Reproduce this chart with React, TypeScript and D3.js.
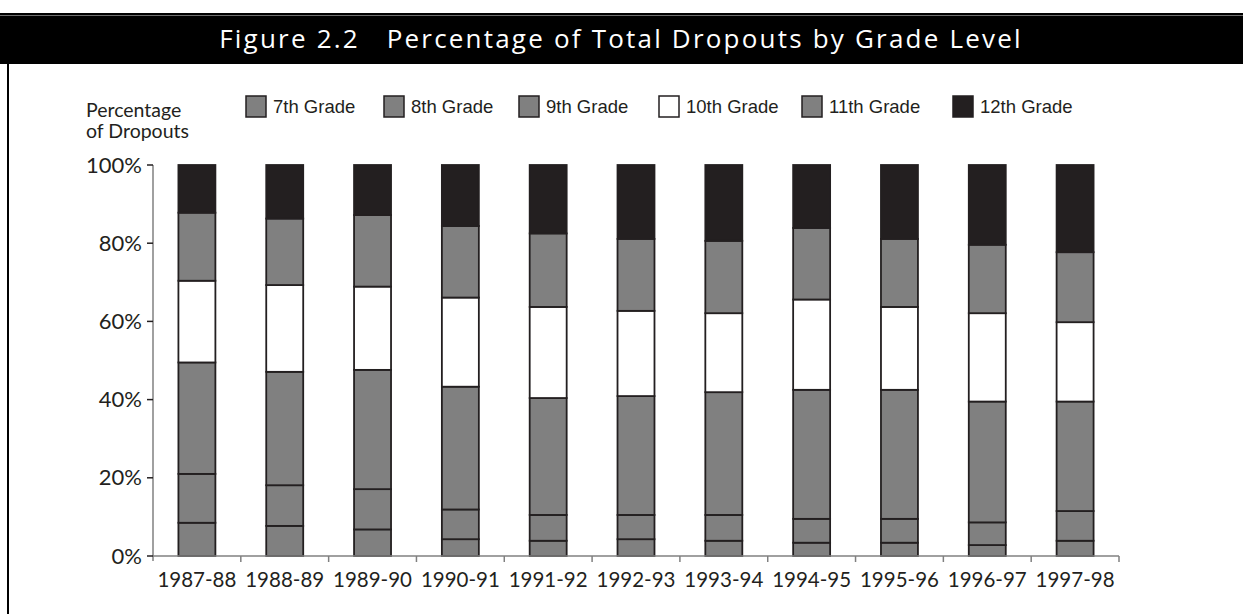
import React from "react";
import * as d3 from "d3";

const years = ["1987-88","1988-89","1989-90","1990-91","1991-92","1992-93","1993-94","1994-95","1995-96","1996-97","1997-98"];
const grades = ["7th Grade","8th Grade","9th Grade","10th Grade","11th Grade","12th Grade"];
const grade7 = [8.5, 7.7, 6.8, 4.3, 3.9, 4.3, 3.9, 3.4, 3.4, 2.8, 3.9];
const grade8 = [12.5, 10.4, 10.3, 7.6, 6.6, 6.2, 6.6, 6.1, 6.1, 5.8, 7.6];
const grade9 = [28.5, 29.0, 30.5, 31.4, 29.9, 30.4, 31.4, 33.0, 33.0, 30.9, 28.0];
const grade10 = [20.9, 22.2, 21.3, 22.8, 23.3, 21.8, 20.2, 23.1, 21.2, 22.6, 20.3];
const grade11 = [17.4, 17.0, 18.3, 18.3, 18.8, 18.4, 18.5, 18.3, 17.4, 17.5, 17.9];
const grade12 = [12.2, 13.7, 12.8, 15.6, 17.5, 18.9, 19.4, 16.1, 18.9, 20.4, 22.3];
const yTicks = [0, 20, 40, 60, 80, 100];

const series = [grade7, grade8, grade9, grade10, grade11, grade12];
const fills = ["#808080", "#808080", "#808080", "#ffffff", "#808080", "#231f20"];
const legendX = [246, 384, 519, 659, 802, 953];

export default function App() {
  const W = 1243, H = 614;
  const left = 153, right = 1119, top = 165, bottom = 556;
  const x = d3.scaleBand<string>().domain(years).range([left, right]).paddingInner(0.579).paddingOuter(0.2895);
  const y = d3.scaleLinear().domain([0, 100]).range([bottom, top]);
  const rows = years.map((yr, i) => {
    const o: any = { year: yr };
    grades.forEach((g, k) => (o[g] = series[k][i]));
    return o;
  });
  const stack = d3.stack<any>().keys(grades)(rows);
  const dark = "#231f20";
  const step = x.step();
  const boundaries = d3.range(years.length + 1).map((i) => left + i * step);

  return (
    <svg width={W} height={H} style={{ position: "absolute", left: 0, top: 0, background: "#fff" }}>
      <rect x={0} y={13} width={W} height={51} fill="#000" />
      <line x1={0} x2={W} y1={15.5} y2={15.5} stroke="#6e6e6e" strokeWidth={1} />
      <text x={621} y={48} textAnchor="middle" fill="#fff" fontFamily="'Open Sans', sans-serif" fontSize={26} letterSpacing={2.2} style={{ whiteSpace: "pre" }} xmlSpace="preserve">
        {"Figure 2.2   Percentage of Total Dropouts by Grade Level"}
      </text>
      <line x1={8} x2={8} y1={64} y2={H} stroke="#000" strokeWidth={2} />

      <text fontFamily="Lato, sans-serif" fontSize={19.5} fill={dark}>
        <tspan x={86} y={117}>Percentage</tspan>
        <tspan x={86} y={138}>of Dropouts</tspan>
      </text>

      {grades.map((g, k) => (
        <g key={g}>
          <rect x={legendX[k]} y={96} width={20} height={21} fill={fills[k]} stroke={dark} strokeWidth={1.5} />
          <text x={legendX[k] + 27} y={113} fontFamily="'Liberation Sans', Arial, sans-serif" fontSize={18.5} fill={dark}>{g}</text>
        </g>
      ))}

      {stack.map((s, k) => (
        <g key={k}>
          {s.map((d, i) => (
            <rect key={i} x={x(years[i])!} y={y(d[1])} width={x.bandwidth()} height={y(d[0]) - y(d[1])}
              fill={fills[k]} stroke={dark} strokeWidth={1.8} />
          ))}
        </g>
      ))}

      <line x1={left} x2={left} y1={top} y2={bottom + 5} stroke="#808080" strokeWidth={1.5} />
      <line x1={left} x2={right} y1={bottom} y2={bottom} stroke="#808080" strokeWidth={1.5} />
      {boundaries.slice(1).map((bx, i) => (
        <line key={i} x1={bx} x2={bx} y1={bottom} y2={bottom + 6} stroke="#808080" strokeWidth={1.5} />
      ))}
      {yTicks.map((t) => (
        <g key={t}>
          <line x1={147} x2={left} y1={y(t)} y2={y(t)} stroke={dark} strokeWidth={1.5} />
          <text x={142} y={y(t) + 7.5} textAnchor="end" fontFamily="Lato, sans-serif" fontSize={22} fill={dark}>{t}%</text>
        </g>
      ))}
      {years.map((yr) => (
        <text key={yr} x={x(yr)! + x.bandwidth() / 2} y={587} textAnchor="middle" fontFamily="Lato, sans-serif" fontSize={20.5} fill={dark}>{yr}</text>
      ))}
    </svg>
  );
}
